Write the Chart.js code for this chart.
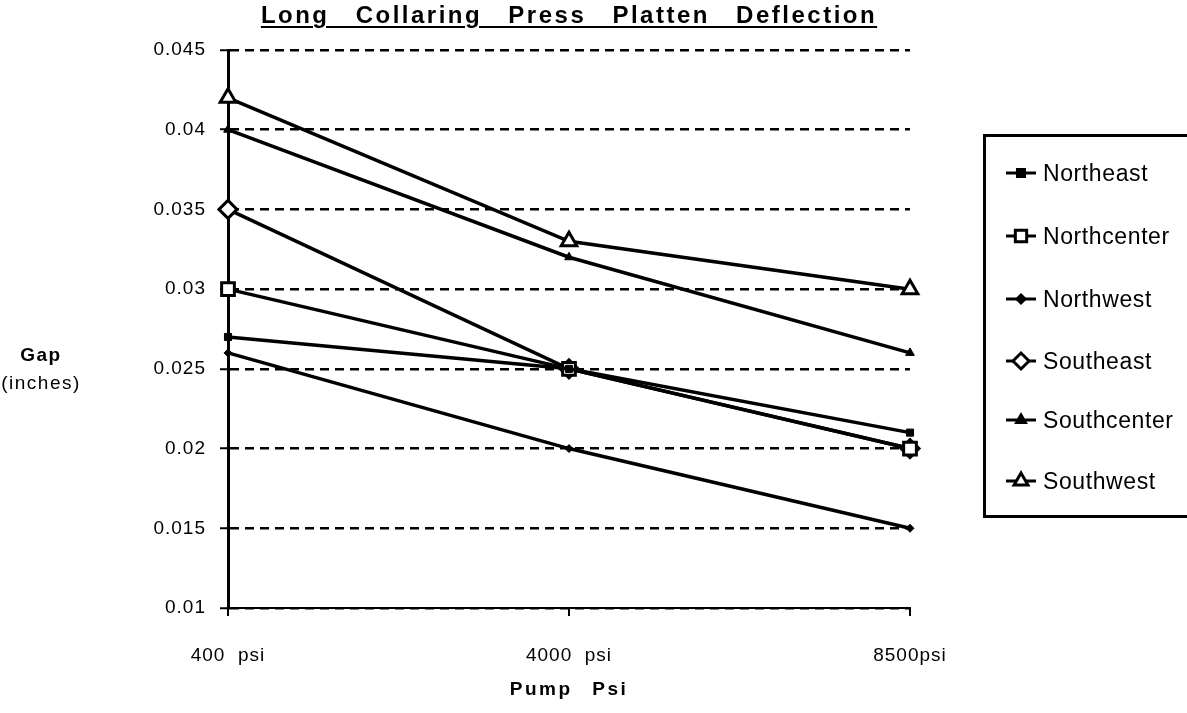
<!DOCTYPE html>
<html>
<head>
<meta charset="utf-8">
<script src="https://cdn.jsdelivr.net/npm/chart.js@4"></script>
<style>
  html, body { margin: 0; padding: 0; background: #fff; overflow: hidden; }
  #wrap { position: relative; width: 1187px; height: 713px; font-family: "Liberation Sans", Arial, sans-serif; color: #000; }
  #chart { position: absolute; left: 0; top: 0; }
  .title { position: absolute; left: 188px; width: 762px; top: 1px; text-align: center; font-weight: bold; font-size: 24px; letter-spacing: 2.5px; word-spacing: 17px; text-decoration: underline; text-decoration-thickness: 2px; text-underline-offset: 3px; }
  .ytitle { position: absolute; left: 0; width: 82px; text-align: center; font-size: 19px; letter-spacing: 1.5px; }
  .xtitle { position: absolute; left: 228px; width: 682px; top: 678px; text-align: center; font-weight: bold; font-size: 19px; letter-spacing: 2.5px; word-spacing: 12px; }
  #legend { position: absolute; left: 983px; top: 134px; width: 240px; height: 378px; border: 3px solid #000; }
  .item { position: absolute; left: 18px; height: 30px; display: flex; align-items: center; font-size: 23px; letter-spacing: 0.6px; }
  .item canvas { margin-right: 5px; }
</style>
</head>
<body>
<div id="wrap">
  <canvas id="chart" width="1187" height="713"></canvas>
  <div class="title">Long Collaring Press Platten Deflection</div>
  <div class="ytitle" style="top:344px;font-weight:bold">Gap</div>
  <div class="ytitle" style="top:372px">(inches)</div>
  <div class="xtitle">Pump Psi</div>
  <div id="legend"></div>
</div>
<script>
const categories = ['400  psi', '4000  psi', '8500psi'];
const seriesNames = ['Northeast', 'Northcenter', 'Northwest', 'Southeast', 'Southcenter', 'Southwest'];
const northeast = [0.027, 0.025, 0.021];
const northcenter = [0.030, 0.025, 0.020];
const northwest = [0.026, 0.020, 0.015];
const southeast = [0.035, 0.025, 0.020];
const southcenter = [0.040, 0.032, 0.026];
const southwest = [0.042, 0.033, 0.030];
const yTicks = [0.01, 0.015, 0.02, 0.025, 0.03, 0.035, 0.04, 0.045];

// marker per series: style, radius, filled
const markers = [
  { style: 'rect', r: 5, fill: '#000' },
  { style: 'rect', r: 9, fill: '#fff' },
  { style: 'rectRot', r: 4, fill: '#000' },
  { style: 'rectRot', r: 9, fill: '#fff' },
  { style: 'triangle', r: 5, fill: '#000' },
  { style: 'triangle', r: 9, fill: '#fff' }
];
const values = [northeast, northcenter, northwest, southeast, southcenter, southwest];

const datasets = seriesNames.map((name, i) => ({
  label: name,
  data: values[i],
  borderColor: '#000',
  borderWidth: 3.5,
  tension: 0,
  pointStyle: markers[i].style,
  pointRadius: markers[i].r,
  pointBackgroundColor: markers[i].fill,
  pointBorderColor: '#000',
  pointBorderWidth: markers[i].fill === '#fff' ? 3 : 1
}));

const spacing = {
  id: 'spacing',
  beforeDraw(chart) { chart.ctx.letterSpacing = '1px'; }
};

new Chart(document.getElementById('chart'), {
  type: 'line',
  data: { labels: categories, datasets },
  plugins: [spacing],
  options: {
    responsive: false,
    animation: false,
    layout: { padding: { left: 0, top: 50, right: 277, bottom: 0 } },
    plugins: { legend: { display: false }, tooltip: { enabled: false } },
    scales: {
      x: {
        offset: false,
        afterFit: s => { s.height = 105; },
        grid: { drawOnChartArea: false, drawTicks: true, tickLength: 8, color: '#000', lineWidth: 2 },
        border: { display: true, color: '#000', width: 2 },
        ticks: { color: '#000', font: { family: 'Liberation Sans', size: 19 }, padding: 28, maxRotation: 0 }
      },
      y: {
        min: 0.01,
        max: 0.045,
        afterFit: s => { s.width = 228; },
        afterBuildTicks: s => { s.ticks = yTicks.map(v => ({ value: v })); },
        grid: { color: '#000', lineWidth: 2.5, drawTicks: true, tickLength: 8, tickColor: '#000', tickWidth: 2 },
        border: { display: true, color: '#000', width: 3, dash: [9, 6] },
        ticks: { color: '#000', font: { family: 'Liberation Sans', size: 19 }, padding: 14, callback: v => String(+v.toFixed(3)) }
      }
    }
  }
});

// html legend built from the same series
const legend = document.getElementById('legend');
const legendTop = [36, 99, 162, 224, 283, 344];
seriesNames.forEach((name, i) => {
  const item = document.createElement('div');
  item.className = 'item';
  item.style.top = (legendTop[i] - 15) + 'px';
  const c = document.createElement('canvas');
  c.width = 34; c.height = 24;
  const g = c.getContext('2d');
  g.strokeStyle = '#000'; g.fillStyle = '#000'; g.lineWidth = 3;
  g.beginPath(); g.moveTo(2, 12); g.lineTo(32, 12); g.stroke();
  const m = markers[i];
  const r = Math.min(m.r, 8);
  g.beginPath();
  if (m.style === 'rect') { const s = r * Math.SQRT1_2; g.rect(17 - s, 12 - s, 2 * s, 2 * s); }
  else if (m.style === 'rectRot') { g.moveTo(17 - r, 12); g.lineTo(17, 12 - r); g.lineTo(17 + r, 12); g.lineTo(17, 12 + r); g.closePath(); }
  else { g.moveTo(17, 12 - r); g.lineTo(17 + r * 0.866, 12 + r / 2); g.lineTo(17 - r * 0.866, 12 + r / 2); g.closePath(); }
  g.fillStyle = m.fill; g.fill(); g.stroke();
  item.appendChild(c);
  item.appendChild(document.createTextNode(name));
  legend.appendChild(item);
});
</script>
</body>
</html>
